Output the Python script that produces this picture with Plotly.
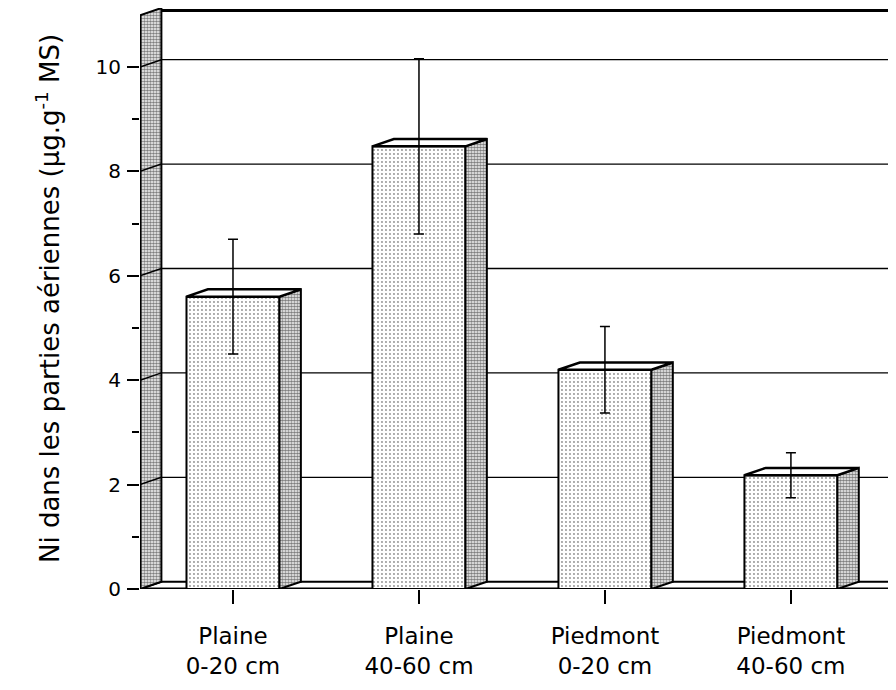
import plotly.graph_objects as go

# ---- data ----
categories = ["Plaine<br>0-20 cm", "Plaine<br>40-60 cm", "Piedmont<br>0-20 cm", "Piedmont<br>40-60 cm"]
values = [5.6, 8.48, 4.2, 2.18]
errors = [1.1, 1.68, 0.83, 0.43]
y_major_ticks = [0, 2, 4, 6, 8, 10]
y_minor_ticks = [1, 3, 5, 7, 9]
y_title = "Ni dans les parties aériennes (µg.g<sup>-1</sup> MS)"

# ---- geometry (3D look) ----
xpos = list(range(len(categories)))
X0, X1 = -0.5, 3.522
Y0, Y1 = 0.0, 11.13
DX, DY = 0.115, 0.14
BW = 0.5
FONT = "DejaVu Sans"

fig = go.Figure()

# back-wall gridlines and floor (below everything)
shapes = []
for v in y_major_ticks[1:]:
    shapes.append(dict(type="line", xref="x", yref="y", layer="below",
                       x0=X0 + DX, x1=X1, y0=v + DY, y1=v + DY,
                       line=dict(color="black", width=1.3)))
shapes.append(dict(type="path", xref="x", yref="y", layer="below",
                   path=f"M {X0},{Y0} L {X1},{Y0} L {X1+DX},{Y0+DY} L {X0+DX},{Y0+DY} Z",
                   fillcolor="white", line=dict(color="black", width=2)))
shapes.append(dict(type="line", xref="x", yref="y", layer="below",
                   x0=X0, x1=X1, y0=Y0, y1=Y0, line=dict(color="black", width=3)))
shapes.append(dict(type="line", xref="x", yref="y", layer="below",
                   x0=X0 + DX, x1=X1, y0=Y1 - 0.05, y1=Y1 - 0.05,
                   line=dict(color="black", width=3)))

# front faces
fig.add_trace(go.Bar(
    x=xpos, y=values, width=BW,
    marker=dict(color="white",
                line=dict(color="black", width=2),
                pattern=dict(shape=".", fgcolor="#222", bgcolor="white", size=4, solidity=0.18)),
    showlegend=False, hoverinfo="skip"))

# left wall
fig.add_trace(go.Scatter(
    x=[X0, X0 + DX, X0 + DX, X0, X0], y=[Y0, Y0 + DY, Y1, Y1 - DY, Y0],
    mode="lines", fill="toself", line=dict(color="black", width=2),
    fillcolor="white",
    fillpattern=dict(shape=".", fgcolor="black", bgcolor="white", size=3, solidity=0.6),
    showlegend=False, hoverinfo="skip"))
# wall perspective marks
wx, wy = [], []
for v in y_major_ticks[1:]:
    wx += [X0, X0 + DX, None]
    wy += [v, v + DY, None]
fig.add_trace(go.Scatter(x=wx, y=wy, mode="lines", line=dict(color="black", width=1.5),
                         showlegend=False, hoverinfo="skip"))
# left axis line (front edge of wall)
fig.add_trace(go.Scatter(x=[X0, X0], y=[Y0, Y1 - DY], mode="lines",
                         line=dict(color="black", width=3), showlegend=False, hoverinfo="skip"))

# side faces
sx, sy = [], []
for x, v in zip(xpos, values):
    r = x + BW / 2
    sx += [r, r + DX, r + DX, r, r, None]
    sy += [0, DY, v + DY, v, 0, None]
fig.add_trace(go.Scatter(
    x=sx, y=sy, mode="lines", fill="toself", line=dict(color="black", width=2),
    fillcolor="white",
    fillpattern=dict(shape=".", fgcolor="black", bgcolor="white", size=3, solidity=0.65),
    showlegend=False, hoverinfo="skip"))

# top faces
tx, ty = [], []
for x, v in zip(xpos, values):
    l, r = x - BW / 2, x + BW / 2
    tx += [l, r, r + DX, l + DX, l, None]
    ty += [v, v, v + DY, v + DY, v, None]
fig.add_trace(go.Scatter(
    x=tx, y=ty, mode="lines", fill="toself", line=dict(color="black", width=2.5),
    fillcolor="white", showlegend=False, hoverinfo="skip"))

# error bars
fig.add_trace(go.Scatter(
    x=xpos, y=values, mode="markers", marker=dict(size=1, color="rgba(0,0,0,0)"),
    error_y=dict(type="data", array=errors, symmetric=True, color="black", thickness=1.5, width=5),
    showlegend=False, hoverinfo="skip"))

fig.update_layout(
    width=880, height=674,
    margin=dict(l=132, r=0, t=0, b=93),
    paper_bgcolor="white", plot_bgcolor="white",
    font=dict(family=FONT, color="black"),
    shapes=shapes,
    xaxis=dict(range=[X0, X1], tickmode="array", tickvals=xpos, ticktext=categories,
               ticks="outside", ticklen=14, tickwidth=2, tickcolor="black",
               showline=False, showgrid=False, zeroline=False,
               ticklabelstandoff=12,
               tickfont=dict(family=FONT, size=23, color="black")),
    yaxis=dict(range=[Y0, Y1], tickmode="array", tickvals=y_major_ticks,
               ticks="outside", ticklen=12, tickwidth=2, tickcolor="black",
               minor=dict(tickvals=y_minor_ticks, ticks="outside", ticklen=7, tickwidth=2, tickcolor="black"),
               showline=False, showgrid=False, zeroline=False,
               ticklabelstandoff=2,
               tickfont=dict(family=FONT, size=20, color="black"),
               title=dict(text=y_title, standoff=28,
                          font=dict(family=FONT, size=26, color="black")),
               automargin=False),
)

fig.write_html("out.html")
